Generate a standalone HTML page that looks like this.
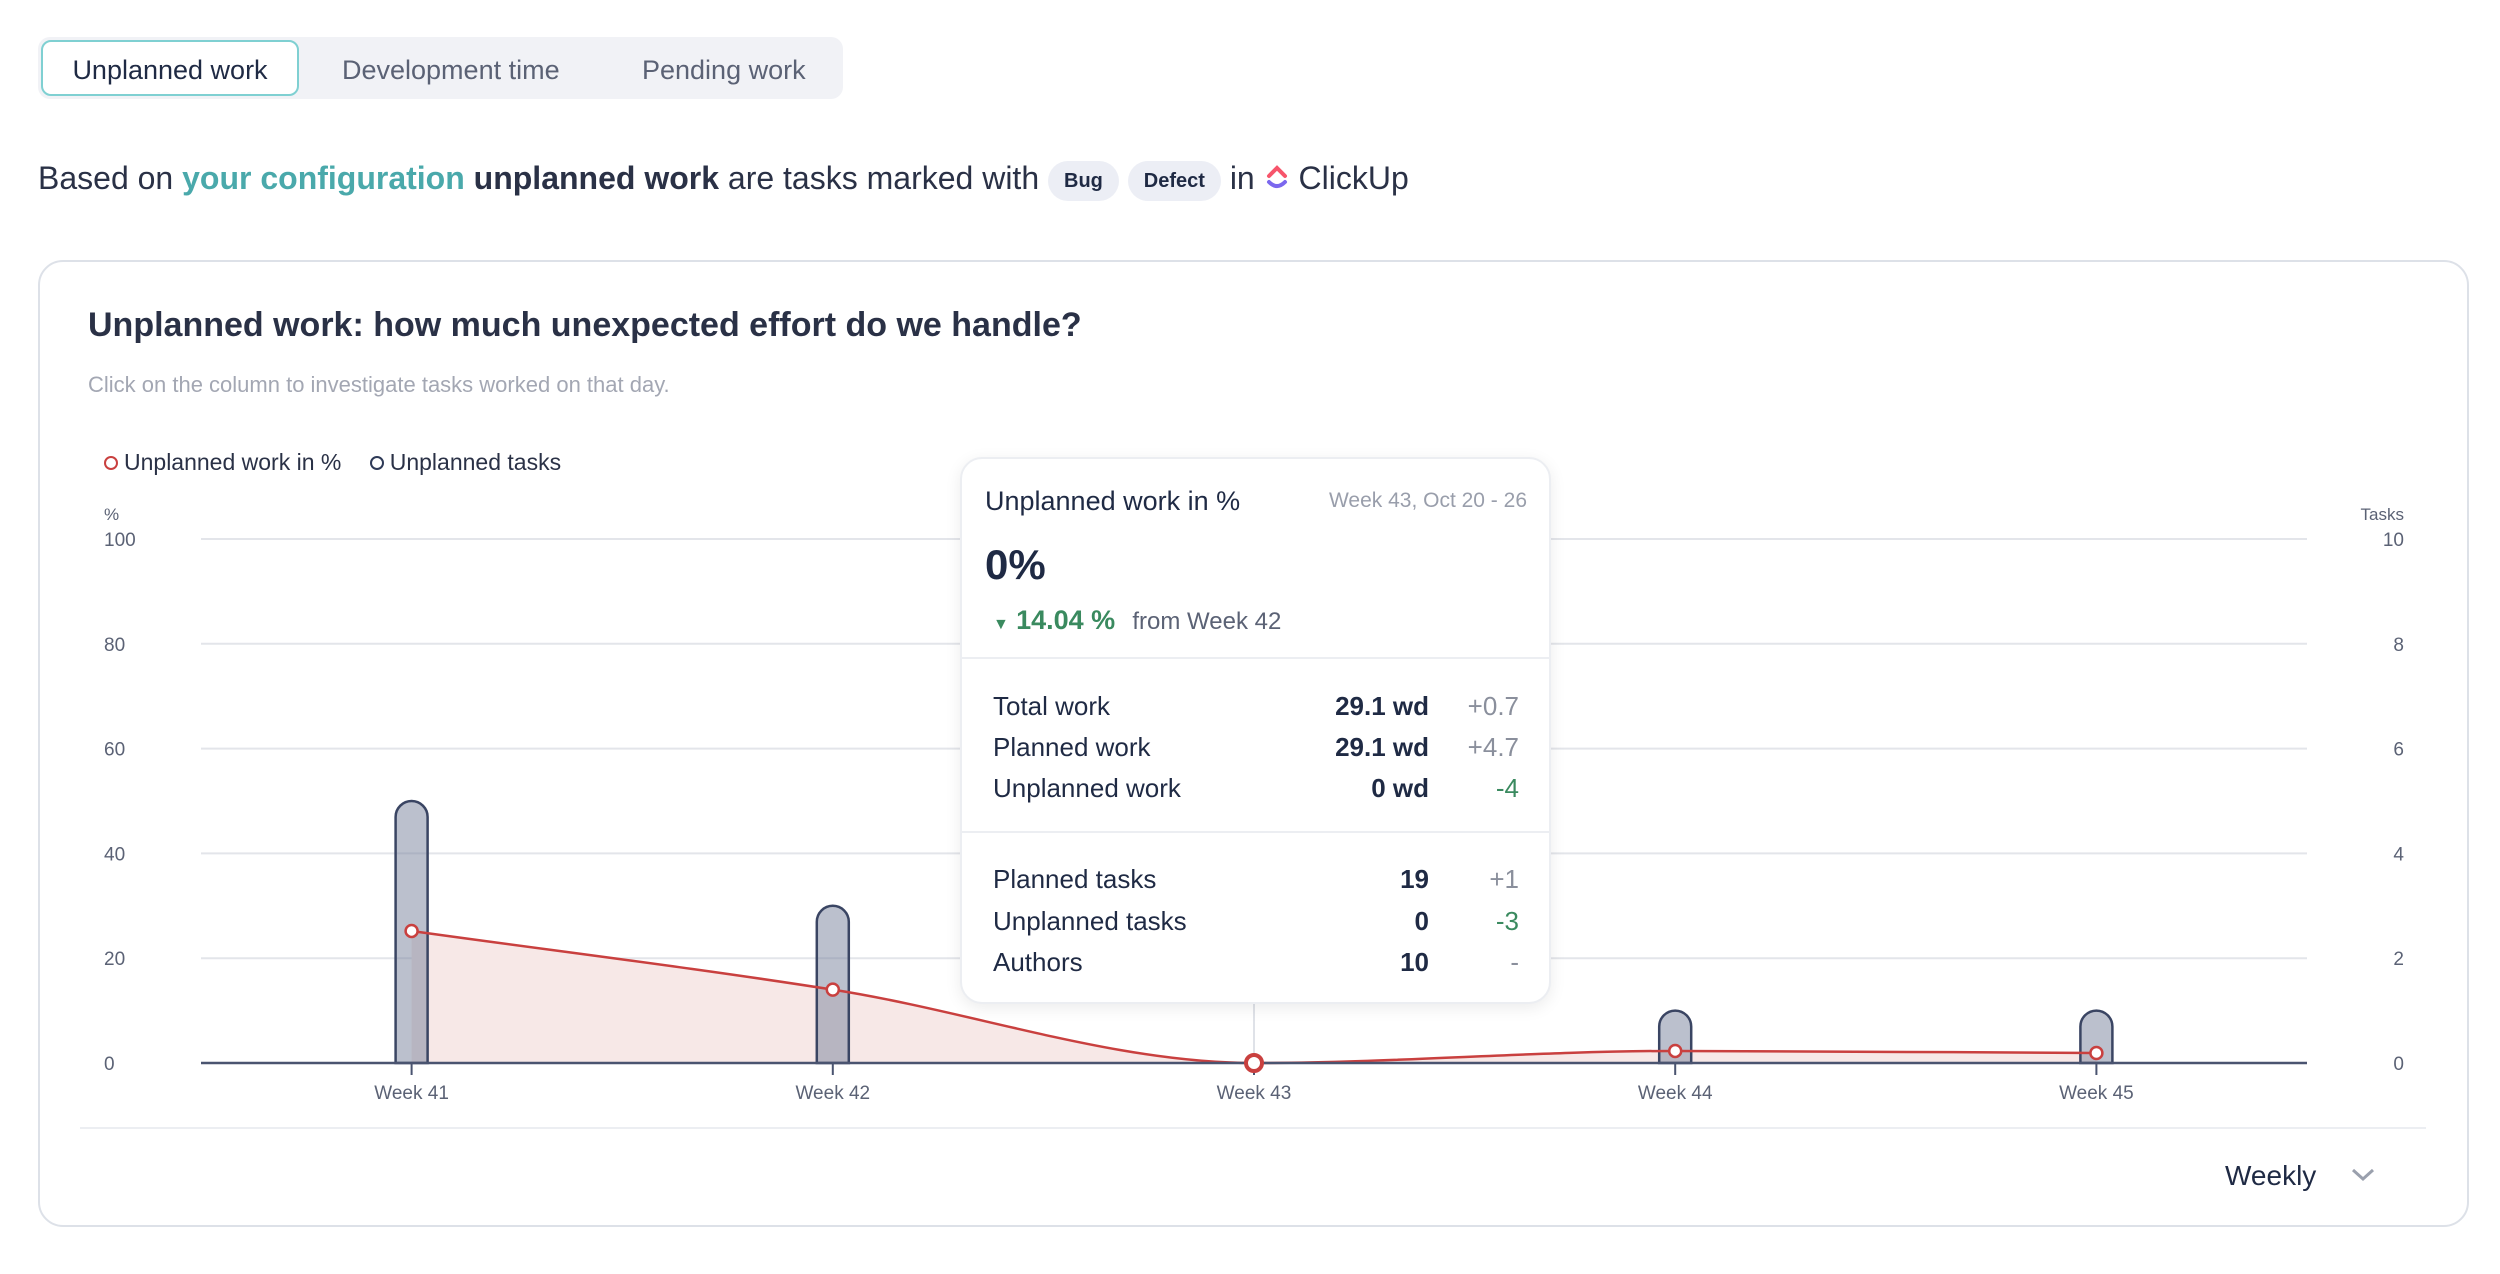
<!DOCTYPE html>
<html><head><meta charset="utf-8"><style>
*{box-sizing:border-box;margin:0;padding:0}
body{width:2500px;height:1274px;background:#fff;font-family:"Liberation Sans",sans-serif;color:#1f2a44;position:relative;overflow:hidden}
.abs{position:absolute}
.tabs{left:38px;top:37px;width:805px;height:62px;background:#f1f2f6;border-radius:12px}
.tab{position:absolute;top:2px;height:62px;line-height:62px;font-size:27px;color:#5b6275}
.tab.active{left:3px;top:3px;height:56px;line-height:56px;width:258px;background:#fff;border:2px solid #7fd0d2;border-radius:10px;color:#1f2a44;text-align:center}
.info{left:38px;top:160px;font-size:32px;color:#2a3146;white-space:nowrap}
.info .link{color:#4aa9ab;font-weight:bold}
.info b{font-weight:bold}
.pill{display:inline-block;background:#eceef5;border-radius:20px;font-size:20px;font-weight:bold;padding:0 16px;height:40px;line-height:40px;vertical-align:middle;color:#1f2a44}
.card{left:38px;top:260px;width:2431px;height:967px;border:2px solid #dde1e8;border-radius:25px}
.tip{left:960px;top:457px;width:591px;height:547px;background:#fff;border:2px solid #eceef2;border-radius:22px;box-shadow:0 4px 16px rgba(0,0,0,.08)}
.row{position:absolute;left:31px;width:526px;font-size:26px;height:34px;line-height:34px}
.row .v{position:absolute;right:90px;font-weight:bold;color:#1f2a44}
.row .d{position:absolute;right:0;color:#8a8f9c}
.g{color:#3a8a5f!important}
</style></head><body>
<div class="abs tabs">
 <div class="tab active">Unplanned work</div>
 <div class="tab" style="left:304px">Development time</div>
 <div class="tab" style="left:604px">Pending work</div>
</div>
<div class="abs info">Based on <span class="link">your configuration</span> <b>unplanned work</b> are tasks marked with <span class="pill">Bug</span> <span class="pill">Defect</span> in <svg width="26" height="30" viewBox="0 0 26 30" style="vertical-align:-4px"><path d="M5 13 L13 5 L21 13" stroke="#f7556b" stroke-width="4" fill="none" stroke-linecap="round"/><path d="M5 19 Q13 27 21 19" stroke="#7b68ee" stroke-width="4" fill="none" stroke-linecap="round"/></svg> ClickUp</div>

<div class="abs card"></div>
<div class="abs" style="left:88px;top:306px;font-size:34px;font-weight:bold;color:#2a3146">Unplanned work: how much unexpected effort do we handle?</div>
<div class="abs" style="left:88px;top:372px;font-size:22px;color:#a3a7b3">Click on the column to investigate tasks worked on that day.</div>
<div class="abs" style="left:104px;top:449px;font-size:23px;color:#2a3146">
 <span><span style="display:inline-block;width:14px;height:14px;border:2.5px solid #c9403f;border-radius:50%;margin-right:6px"></span>Unplanned work in %</span>
 <span style="margin-left:22px"><span style="display:inline-block;width:14px;height:14px;border:2.5px solid #2e3a57;border-radius:50%;margin-right:6px"></span>Unplanned tasks</span>
</div>

<svg class="abs" style="left:0;top:0" width="2500" height="1274" id="chart"></svg>

<div class="abs" style="left:80px;top:1127px;width:2346px;height:2px;background:#eceef2"></div>
<div class="abs" style="left:2225px;top:1160px;font-size:28px;color:#1f2a44">Weekly <svg width="30" height="20" viewBox="0 0 30 20" style="margin-left:24px"><path d="M5 5 L15 14 L25 5" stroke="#9aa0ad" stroke-width="3" fill="none"/></svg></div>

<div class="abs tip">
 <div class="abs" style="left:23px;top:27px;font-size:27px;color:#1f2a44">Unplanned work in %</div>
 <div class="abs" style="right:22px;top:30px;font-size:21px;color:#999eab">Week 43, Oct 20 - 26</div>
 <div class="abs" style="left:23px;top:82px;font-size:42px;font-weight:bold;color:#1f2a44">0%</div>
 <div class="abs" style="left:31px;top:146px;font-size:26px;white-space:nowrap"><span class="g" style="font-size:16px">▼</span> <span class="g" style="font-weight:bold;font-size:27px">14.04 %</span> <span style="color:#5b6275;margin-left:10px;font-size:24px">from Week 42</span></div>
 <div class="abs" style="left:0;top:198px;width:587px;height:2px;background:#eceef2"></div>
 <div class="row" style="top:230px">Total work<span class="v">29.1 wd</span><span class="d">+0.7</span></div>
 <div class="row" style="top:271px">Planned work<span class="v">29.1 wd</span><span class="d">+4.7</span></div>
 <div class="row" style="top:312px">Unplanned work<span class="v">0 wd</span><span class="d g">-4</span></div>
 <div class="abs" style="left:0;top:372px;width:587px;height:2px;background:#eceef2"></div>
 <div class="row" style="top:403px">Planned tasks<span class="v">19</span><span class="d">+1</span></div>
 <div class="row" style="top:445px">Unplanned tasks<span class="v">0</span><span class="d g">-3</span></div>
 <div class="row" style="top:486px">Authors<span class="v">10</span><span class="d">-</span></div>
</div>

<script>
const categories=["Week 41","Week 42","Week 43","Week 44","Week 45"];
const percentValues=[25.2,14,0,2.3,1.9];
const taskValues=[5,3,0,1,1];
const leftTicks=[0,20,40,60,80,100];
const rightTicks=[0,2,4,6,8,10];
const selectedIndex=2;

const svg=document.getElementById('chart');
const NS='http://www.w3.org/2000/svg';
const X0=201,X1=2307,Y0=1063,Y1=539;
const step=(X1-X0)/categories.length;
const xs=i=>X0+step*(i+0.5);
const yL=v=>Y0-(v/100)*(Y0-Y1);
const yR=v=>Y0-(v/10)*(Y0-Y1);
function mk(t,a){const e=document.createElementNS(NS,t);for(const k in a)e.setAttribute(k,a[k]);svg.appendChild(e);return e;}
function txt(s,a){const e=mk('text',a);e.textContent=s;return e;}

leftTicks.forEach((v,i)=>{
 if(v>0){const g=mk('line',{x1:X0,x2:X1,y1:yL(v),y2:yL(v),stroke:'#e3e5ea','stroke-width':2});
 
 }
 const t=txt(v,{x:104,y:yL(v)+7,'font-size':19,fill:'#5b6275'});
 
 
});
rightTicks.forEach(v=>{
 const t=txt(v,{x:2404,y:yR(v)+7,'font-size':19,fill:'#5b6275','text-anchor':'end'});
 
 
});
let t=txt('%',{x:104,y:520,'font-size':17,fill:'#5b6275'});


t=txt('Tasks',{x:2404,y:520,'font-size':17,fill:'#5b6275','text-anchor':'end'});



let sl=mk('line',{x1:xs(selectedIndex),x2:xs(selectedIndex),y1:1004,y2:Y0,stroke:'#dfe2e8','stroke-width':2});



const pts=percentValues.map((v,i)=>[xs(i),yL(v)]);
function monotone(p){
 const n=p.length,d=[],m=[];
 for(let i=0;i<n-1;i++)d.push((p[i+1][1]-p[i][1])/(p[i+1][0]-p[i][0]));
 m[0]=d[0];m[n-1]=d[n-2];
 for(let i=1;i<n-1;i++)m[i]=(d[i-1]*d[i]<=0)?0:(d[i-1]+d[i])/2;
 for(let i=0;i<n-1;i++){if(d[i]===0){m[i]=m[i+1]=0;continue;}const a=m[i]/d[i],b=m[i+1]/d[i],s=a*a+b*b;if(s>9){const tt=3/Math.sqrt(s);m[i]=tt*a*d[i];m[i+1]=tt*b*d[i];}}
 let s='M'+p[0][0]+','+p[0][1];
 for(let i=0;i<n-1;i++){const h=(p[i+1][0]-p[i][0])/3;s+=` C${p[i][0]+h},${p[i][1]+m[i]*h} ${p[i+1][0]-h},${p[i+1][1]-m[i+1]*h} ${p[i+1][0]},${p[i+1][1]}`;}
 return s;
}
const curve=monotone(pts);
let area=mk('path',{d:curve+` L${pts[pts.length-1][0]},${Y0} L${pts[0][0]},${Y0} Z`,fill:'#f7e8e7'});



taskValues.forEach((v,i)=>{
 if(v<=0)return;
 const w=32,x=xs(i)-w/2,y=yR(v),r=16;
 const b=mk('path',{d:`M${x},${Y0} L${x},${y+r} A${r},${r} 0 0 1 ${x+w},${y+r} L${x+w},${Y0} Z`,fill:'rgba(120,130,155,0.5)',stroke:'#3a4563','stroke-width':2.5});
 
 
});

let ln=mk('path',{d:curve,fill:'none',stroke:'#c9403f','stroke-width':2.5});



let ax=mk('line',{x1:X0,x2:X1,y1:Y0,y2:Y0,stroke:'#4a5470','stroke-width':2.5});



categories.forEach((c,i)=>{
 const tk=mk('line',{x1:xs(i),x2:xs(i),y1:Y0,y2:Y0+12,stroke:'#4a5470','stroke-width':2});
 
 
 const l=txt(c,{x:xs(i),y:1099,'font-size':19,fill:'#5b6275','text-anchor':'middle'});
 
 
});
pts.forEach((p,i)=>{
 const sel=i===selectedIndex;
 const c=mk('circle',{cx:p[0],cy:p[1],r:sel?8:6,fill:'#fff',stroke:'#c9403f','stroke-width':sel?4:2.5});
 
 
});
</script>
</body></html>
